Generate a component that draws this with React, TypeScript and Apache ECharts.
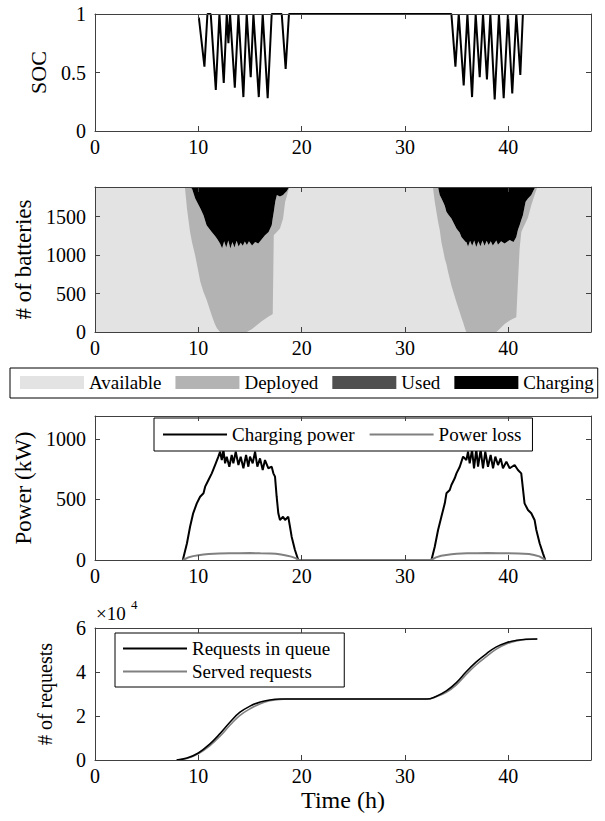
import React, { useEffect, useRef } from 'react';
import * as echarts from 'echarts';

// ---------- Data ----------
const xTickStep = 10;
const xMax = 48;

// Panel 1: SOC
const socTime = [10.05, 10.59, 10.88, 11.2, 11.69, 12.04, 12.46, 12.75, 12.91, 13.07, 13.53, 13.88, 14.36, 14.68, 15.07, 15.33, 15.85, 16.23, 16.71, 17.1, 18.07, 18.45, 18.77, 34.49, 34.88, 35.2, 35.68, 36.04, 36.49, 36.84, 37.23, 37.55, 37.93, 38.26, 38.68, 39.09, 39.55, 39.96, 40.38, 40.77, 41.16, 41.41];
const socValue = [0.97, 0.55, 1, 1, 0.35, 1, 0.41, 1, 0.75, 1, 0.37, 1, 0.29, 1, 0.46, 1, 0.29, 1, 0.28, 1, 1, 0.53, 1, 1, 0.55, 1, 0.39, 1, 0.29, 1, 0.46, 1, 0.44, 1, 0.27, 1, 0.28, 1, 0.32, 1, 0.48, 1];

// Panel 2: battery states (counts per state)
const batteryTime = [0, 8.7, 8.9, 9.2, 9.4, 9.7, 10.2, 10.5, 10.8, 11.3, 11.6, 11.8, 12.1, 12.3, 12.5, 12.7, 12.9, 13.1, 13.3, 13.5, 13.7, 13.9, 14.1, 14.3, 14.5, 14.7, 14.9, 15.2, 15.5, 15.8, 16.1, 16.45, 16.8, 17.1, 17.2, 17.3, 17.45, 17.6, 17.9, 18.2, 18.4, 18.55, 18.8,
  32.7, 32.88, 33.2, 33.36, 33.52, 33.68, 33.85, 34.01, 34.17, 34.49, 34.98, 35.3, 35.46, 35.62, 35.87, 35.94, 36.1, 36.3, 36.5, 36.7, 36.9, 37.1, 37.3, 37.5, 37.7, 37.9, 38.1, 38.3, 38.5, 38.84, 39.0, 39.3, 39.64, 40.13, 40.5, 40.77, 40.93, 41.09, 41.26, 41.41, 41.67, 41.9, 42.22, 42.54, 42.8, 48];
const available = [1885, 1885, 1605, 1301, 1160, 990, 649, 520, 420, 214, 104, 50, 0, 0, 0, 0, 0, 0, 0, 0, 0, 0, 0, 0, 0, 0, 15, 39, 70, 104, 135, 170, 200, 225, 235, 1258, 1280, 1301, 1345, 1475, 1693, 1759, 1885,
  1885, 1693, 1432, 1330, 1171, 1070, 953, 880, 779, 606, 388, 257, 190, 127, 18, 0, 0, 0, 0, 0, 0, 0, 0, 0, 0, 0, 0, 0, 0, 0, 20, 60, 104, 148, 175, 192, 649, 1083, 1301, 1350, 1420, 1490, 1649, 1780, 1885, 1885];
const deployed = [0, 0, 280, 584, 700, 746, 956, 999, 968, 1087, 1146, 1164, 1149, 1090, 1180, 1100, 1190, 1085, 1170, 1100, 1185, 1110, 1160, 1120, 1175, 1130, 1165, 1086, 1100, 1046, 1065, 1088, 1101, 1163, 1245, 302, 420, 479, 415, 305, 117, 71, 0,
  0, 192, 453, 450, 569, 623, 687, 682, 751, 869, 957, 1033, 1046, 1083, 1153, 1171, 1110, 1185, 1120, 1190, 1105, 1180, 1115, 1190, 1120, 1185, 1130, 1180, 1125, 1190, 1115, 1120, 1046, 1047, 995, 1044, 681, 305, 159, 169, 273, 246, 131, 90, 0, 0];
const used = [0, 0, 0, 0, 0, 0, 0, 0, 0, 0, 0, 0, 0, 0, 0, 0, 0, 0, 0, 0, 0, 0, 0, 0, 0, 0, 0, 0, 0, 0, 0, 0, 0, 0, 0, 0, 0, 0, 0, 0, 0, 0, 0,
  0, 0, 0, 0, 0, 0, 0, 0, 0, 0, 0, 0, 0, 0, 0, 0, 0, 0, 0, 0, 0, 0, 0, 0, 0, 0, 0, 0, 0, 0, 0, 0, 0, 0, 0, 0, 0, 0, 0, 0, 0, 0, 0, 0, 0, 0];
const charging = [0, 0, 0, 0, 25, 149, 280, 366, 497, 584, 635, 671, 736, 795, 705, 785, 695, 800, 715, 785, 700, 775, 725, 765, 710, 755, 705, 760, 715, 735, 685, 627, 584, 497, 405, 325, 185, 105, 125, 105, 75, 55, 0,
  0, 0, 0, 105, 145, 192, 245, 323, 355, 410, 540, 595, 649, 675, 714, 714, 775, 700, 765, 695, 780, 705, 770, 695, 765, 700, 755, 705, 760, 695, 750, 705, 735, 690, 715, 649, 555, 497, 425, 366, 192, 149, 105, 15, 0, 0];

// Panel 3: power (kW)
const chargeTime = [8.5, 8.9, 9.2, 9.5, 9.85, 10.17, 10.5, 10.66, 10.98, 11.3, 11.62, 11.94, 12.1, 12.27, 12.43, 12.59, 12.75, 13.0, 13.23, 13.39, 13.62, 13.88, 14.1, 14.36, 14.62, 14.84, 15.0, 15.26, 15.49, 15.71, 15.97, 16.23, 16.45, 16.78, 17.1, 17.26, 17.42, 17.58, 17.74, 17.9, 18.2, 18.39, 18.7, 18.87, 19.03, 19.35, 19.67,
  32.56, 32.88, 33.2, 33.52, 33.85, 34.01, 34.33, 34.49, 34.81, 34.98, 35.3, 35.62, 35.94, 36.1, 36.26, 36.49, 36.68, 36.9, 37.07, 37.32, 37.55, 37.77, 38.03, 38.29, 38.52, 38.74, 39.0, 39.26, 39.48, 39.81, 40.13, 40.61, 40.93, 41.25, 41.57, 41.9, 42.22, 42.54, 42.71, 43.03, 43.35, 43.57];
const chargingPower = [0, 138, 275, 386, 468, 523, 551, 606, 661, 716, 785, 854, 895, 826, 909, 799, 854, 771, 868, 799, 895, 785, 854, 758, 868, 771, 854, 799, 895, 771, 840, 744, 826, 758, 771, 716, 689, 523, 386, 331, 358, 331, 358, 275, 193, 83, 0,
  0, 110, 248, 358, 468, 551, 578, 620, 675, 716, 771, 854, 826, 895, 799, 909, 758, 914, 771, 909, 758, 895, 771, 868, 758, 854, 785, 840, 758, 813, 758, 785, 744, 716, 468, 413, 386, 331, 248, 138, 55, 0];
const lossTime = [8.5, 9.0, 9.5, 10.0, 10.5, 11.0, 11.5, 12.0, 13.0, 14.0, 15.0, 16.0, 17.0, 17.5, 18.0, 18.5, 19.0, 19.4, 19.7,
  32.5, 33.0, 33.5, 34.0, 34.5, 35.0, 36.0, 37.0, 38.0, 39.0, 40.0, 41.0, 42.0, 42.5, 43.0, 43.3, 43.6];
const powerLoss = [0, 20, 32, 40, 46, 50, 52, 54, 56, 55, 57, 55, 54, 52, 45, 38, 28, 15, 0,
  0, 22, 35, 42, 48, 52, 55, 56, 57, 56, 56, 54, 50, 42, 30, 15, 0];

// Panel 4: requests (counts)
const requestTime = [7.9, 8.9, 10.0, 11.1, 12.1, 13.1, 14.0, 15.0, 16.0, 16.9, 17.9, 18.6, 32.1, 33.0, 34.0, 35.0, 35.9, 36.9, 37.9, 38.8, 39.8, 40.8, 41.7, 42.8];
const requestsInQueue = [0, 900, 3200, 7200, 12000, 17400, 21600, 24500, 26400, 27300, 27700, 27700, 27700, 28900, 31400, 35300, 40000, 44600, 48400, 51300, 53300, 54400, 54900, 55000];
const servedRequests = [0, 700, 2800, 6400, 10800, 16000, 20200, 23300, 25600, 26900, 27500, 27700, 27700, 28700, 30800, 34300, 38800, 43300, 47100, 50300, 52700, 54100, 54800, 55000];

// ---------- Styling ----------
const FONT = 'Liberation Serif';
const AXIS_COLOR = '#404040';
const GRIDS = [
  { left: 95, top: 14, width: 496, height: 117 },
  { left: 95, top: 187, width: 496, height: 145 },
  { left: 95, top: 416, width: 496, height: 144 },
  { left: 95, top: 628, width: 496, height: 132 },
];
const Y_CFG = [
  { max: 1, interval: 0.5, name: 'SOC', gap: 46, size: 22, showMax: true, div: 1 },
  { max: 1885, interval: 500, name: '# of batteries', gap: 58, size: 23, showMax: false, div: 1 },
  { max: 1190, interval: 500, name: 'Power (kW)', gap: 57, size: 23, showMax: false, div: 1 },
  { max: 60000, interval: 20000, name: '# of requests', gap: 40, size: 20, showMax: true, div: 10000 },
];

const pairs = (xs: number[], ys: number[]) => xs.map((x, i) => [x, ys[i]]);

function buildOption() {
  const xAxis: any[] = [];
  const yAxis: any[] = [];
  GRIDS.forEach((_, g) => {
    const common = {
      type: 'value', gridIndex: g, min: 0, max: xMax, interval: xTickStep, z: 10,
      splitLine: { show: false },
      axisLine: { show: true, onZero: false, lineStyle: { color: AXIS_COLOR, width: 1 } },
      axisTick: { show: true, inside: true, length: 5, lineStyle: { color: AXIS_COLOR, width: 1 } },
    };
    xAxis.push({
      ...common, position: 'bottom',
      axisLabel: { show: true, margin: 6, color: '#000', fontFamily: FONT, fontSize: 20, showMaxLabel: false, formatter: (v: number) => String(v) },
      ...(g === 3 ? { name: 'Time (h)', nameLocation: 'middle', nameGap: 28, nameTextStyle: { fontFamily: FONT, fontSize: 24, color: '#000' } } : {}),
    });
    xAxis.push({ ...common, position: 'top', axisLabel: { show: false } });
    const c = Y_CFG[g];
    const ycommon = {
      type: 'value', gridIndex: g, min: 0, max: c.max, interval: c.interval, z: 10,
      splitLine: { show: false },
      axisLine: { show: true, onZero: false, lineStyle: { color: AXIS_COLOR, width: 1 } },
      axisTick: { show: true, inside: true, length: 5, lineStyle: { color: AXIS_COLOR, width: 1 } },
    };
    yAxis.push({
      ...ycommon, position: 'left',
      axisLabel: { show: true, margin: 9, color: '#000', fontFamily: FONT, fontSize: 20, showMaxLabel: c.showMax, formatter: (v: number) => String(+(v / c.div).toFixed(3)) },
      name: c.name, nameLocation: 'middle', nameGap: c.gap,
      nameTextStyle: { fontFamily: FONT, fontSize: c.size, color: '#000' },
    });
    yAxis.push({ ...ycommon, position: 'right', axisLabel: { show: false } });
  });

  // cumulative tops of the battery-state bands (bottom to top: Available, Deployed, Used, Charging)
  const topAvailable = available.slice();
  const topDeployed = available.map((a, i) => a + deployed[i]);
  const topUsed = topDeployed.map((d, i) => d + used[i]);
  const topCharging = topUsed.map((u, i) => u + charging[i]);

  const area = (name: string, values: number[], color: string, z: number) => ({
    type: 'line', name, xAxisIndex: 2, yAxisIndex: 2, z,
    data: pairs(batteryTime, values), symbol: 'none', showSymbol: false,
    color, itemStyle: { color }, lineStyle: { width: 0, color },
    areaStyle: { color, opacity: 1, origin: 'start' }, silent: true,
  });
  const line = (name: string, xi: number, xs: number[], ys: number[], color: string, width: number, smooth: any = false) => ({
    type: 'line', name, xAxisIndex: xi, yAxisIndex: xi, data: pairs(xs, ys),
    symbol: 'none', showSymbol: false, color, itemStyle: { color },
    lineStyle: { width, color }, smooth, silent: true,
  });

  const textStyle = { fontFamily: FONT, fontSize: 19, color: '#000' };

  return {
    animation: false,
    backgroundColor: '#fff',
    textStyle: { fontFamily: FONT },
    grid: GRIDS.map((g) => ({ ...g, containLabel: false })),
    xAxis, yAxis,
    legend: [
      {
        left: 10, top: 368, orient: 'horizontal', padding: [5, 4, 6, 10],
        itemWidth: 64, itemHeight: 13, itemGap: 14, icon: 'rect',
        borderColor: '#000', borderWidth: 1, backgroundColor: '#fff',
        data: ['Available', 'Deployed', 'Used', 'Charging'],
        textStyle, itemStyle: { borderWidth: 0 }, selectedMode: false,
      },
      {
        left: 154, top: 418, orient: 'horizontal', padding: [7, 11, 7, 9],
        itemWidth: 64, itemHeight: 2, itemGap: 15, icon: 'rect',
        borderColor: '#000', borderWidth: 1, backgroundColor: '#fff',
        data: ['Charging power', 'Power loss'],
        textStyle, itemStyle: { borderWidth: 0 }, selectedMode: false,
      },
      {
        left: 115, top: 633, orient: 'vertical', padding: [6, 14, 6, 8],
        itemWidth: 64, itemHeight: 2, itemGap: 4, icon: 'rect',
        borderColor: '#000', borderWidth: 1, backgroundColor: '#fff',
        data: ['Requests in queue', 'Served requests'],
        textStyle, itemStyle: { borderWidth: 0 }, selectedMode: false,
      },
    ],
    graphic: [
      { type: 'text', left: 96, top: 604, style: { text: '×10', fontFamily: FONT, fontSize: 19, fill: '#000' } },
      { type: 'text', left: 131, top: 598, style: { text: '4', fontFamily: FONT, fontSize: 13, fill: '#000' } },
    ],
    series: [
      line('SOC', 0, socTime, socValue, '#000', 2),
      area('Charging', topCharging, '#000000', 2),
      area('Used', topUsed, '#4f4f4f', 3),
      area('Deployed', topDeployed, '#b3b3b3', 4),
      area('Available', topAvailable, '#e3e3e3', 5),
      line('Charging power', 4, chargeTime, chargingPower, '#000', 2),
      line('Power loss', 4, lossTime, powerLoss, '#808080', 2),
      line('Served requests', 6, requestTime, servedRequests, '#808080', 1.6, 0.4),
      line('Requests in queue', 6, requestTime, requestsInQueue, '#000', 1.6, 0.4),
    ],
  };
}

export default function App() {
  const ref = useRef<HTMLDivElement>(null);
  useEffect(() => {
    if (!ref.current) return;
    const chart = echarts.init(ref.current, null, { renderer: 'svg' });
    chart.setOption(buildOption() as any);
    return () => chart.dispose();
  }, []);
  return (
    <div
      ref={ref}
      style={{ position: 'fixed', left: 0, top: 0, width: 605, height: 821, background: '#fff' }}
    />
  );
}
